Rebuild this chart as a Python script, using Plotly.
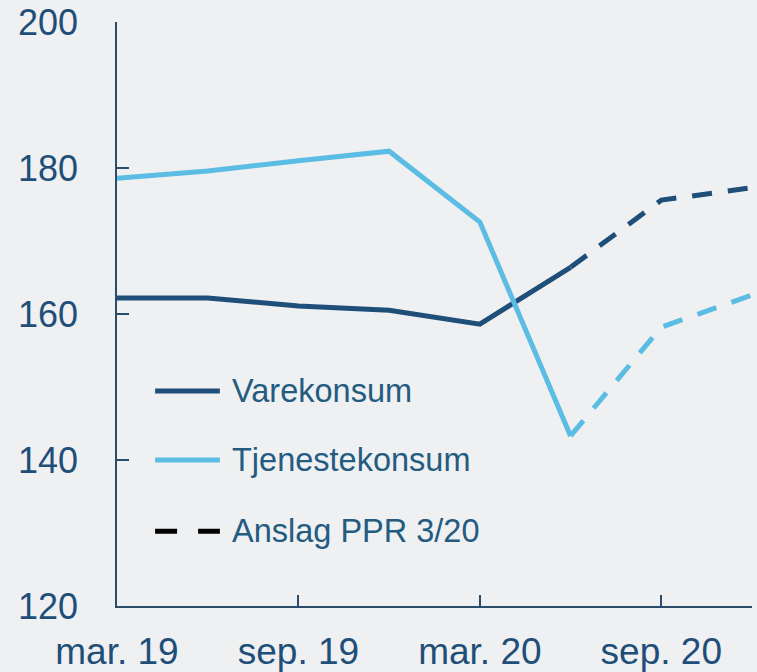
import plotly.graph_objects as go

quarters = ["mar. 19", "jun. 19", "sep. 19", "des. 19", "mar. 20", "jun. 20", "sep. 20", "des. 20"]
varekonsum = [162.2, 162.2, 161.1, 160.5, 158.6, 166.4, 175.6, 177.3]
tjenestekonsum = [178.6, 179.6, 181.0, 182.3, 172.6, 143.3, 158.2, 162.6]
forecast_start = 5  # index of jun. 20, first forecast point
tick_idx = [0, 2, 4, 6]
y_ticks = [120, 140, 160, 180, 200]
legend_labels = ["Varekonsum", "Tjenestekonsum", "Anslag PPR 3/20"]

DARK = "#1f4e79"
LIGHT = "#5bbce4"
BG = "#eef0f2"
AXIS = "#2b4c6a"
FONT = "Liberation Sans, Arial, sans-serif"

x = list(range(len(quarters)))
f = forecast_start

fig = go.Figure()
fig.add_trace(go.Scatter(x=x[:f + 1], y=varekonsum[:f + 1], mode="lines",
                         line=dict(color=DARK, width=5), showlegend=False))
fig.add_trace(go.Scatter(x=x[f:], y=varekonsum[f:], mode="lines",
                         line=dict(color=DARK, width=5, dash="20px,16px"), showlegend=False))
fig.add_trace(go.Scatter(x=x[:f + 1], y=tjenestekonsum[:f + 1], mode="lines",
                         line=dict(color=LIGHT, width=5), showlegend=False))
fig.add_trace(go.Scatter(x=x[f:], y=tjenestekonsum[f:], mode="lines",
                         line=dict(color=LIGHT, width=5, dash="20px,16px"), showlegend=False))

# custom legend (paper coordinates)
leg_y = [0.368, 0.25, 0.128]
leg_styles = [dict(color=DARK, width=5), dict(color=LIGHT, width=5),
              dict(color="#000000", width=5, dash="22px,21px")]
for ly, style, lab in zip(leg_y, leg_styles, legend_labels):
    fig.add_shape(type="line", xref="paper", yref="paper", x0=0.06, x1=0.162,
                  y0=ly, y1=ly, line=style)
    fig.add_annotation(xref="paper", yref="paper", x=0.178, y=ly, text=lab,
                       showarrow=False, xanchor="left", yanchor="middle",
                       font=dict(family=FONT, size=32.5, color="#245b80"))

fig.update_layout(
    width=757, height=672,
    margin=dict(l=117, r=5, t=22, b=66, autoexpand=False),
    paper_bgcolor=BG, plot_bgcolor=BG,
    font=dict(family=FONT, size=36, color=DARK),
    showlegend=False,
)
fig.update_xaxes(range=[0, 7], tickvals=tick_idx, ticktext=[quarters[i] for i in tick_idx],
                 ticks="inside", ticklen=11, tickwidth=1.5, tickcolor=AXIS,
                 showline=True, linecolor=AXIS, linewidth=1.5, showgrid=False,
                 zeroline=False, ticklabelstandoff=12, automargin=False,
                 tickfont=dict(family=FONT, size=37, color=DARK))
fig.update_yaxes(range=[120, 200], tickvals=y_ticks,
                 ticks="inside", ticklen=12, tickwidth=1.5, tickcolor=AXIS,
                 showline=True, linecolor=AXIS, linewidth=1.5, showgrid=False,
                 zeroline=False, ticklabelstandoff=30, automargin=False,
                 tickfont=dict(family=FONT, size=36, color=DARK))

fig.write_html("out.html", config={"displayModeBar": False},
               post_script="document.body.style.margin='0px';document.body.style.background='#eef0f2';")
